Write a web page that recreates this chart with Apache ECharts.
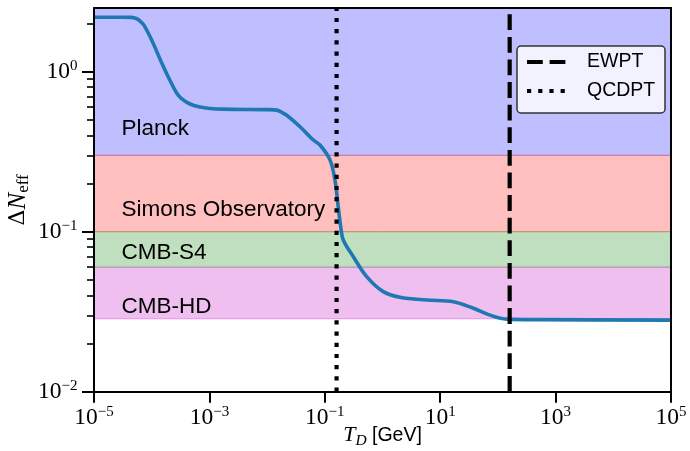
<!DOCTYPE html>
<html>
<head>
<meta charset="utf-8">
<script src="https://cdn.jsdelivr.net/npm/echarts@6/dist/echarts.min.js"></script>
<style>
html, body { margin: 0; padding: 0; background: #fff; }
#chart { width: 690px; height: 451px; }
</style>
</head>
<body>
<div id="chart"></div>
<script>
// Decoupling temperature T_D [GeV] and the resulting contribution to N_eff
const temperature = [1e-5, 3e-5, 4.4e-5, 5.4e-5, 6.3e-5, 7.3e-5, 1.03e-4, 1.46e-4, 2.06e-4, 2.71e-4, 3.25e-4, 4.6e-4,
  6.9e-4, 1.02e-3, 1.72e-3, 0.0105, 0.0147, 0.0178, 0.0219, 0.0372, 0.0632, 0.0826, 0.123, 0.150, 0.171, 0.189, 0.209,
  0.312, 0.532, 1.03, 2.01, 5.83, 16.9, 37.5, 72.9, 142, 537, 1e5];
const deltaNeff = [2.19, 2.19, 2.185, 2.15, 2.07, 1.96, 1.54, 1.155, 0.887, 0.736, 0.682, 0.628,
  0.601, 0.589, 0.583, 0.579, 0.575, 0.558, 0.534, 0.453, 0.374, 0.348, 0.281, 0.210, 0.143, 0.107, 0.0887,
  0.0698, 0.0524, 0.0422, 0.0389, 0.0374, 0.0365, 0.0332, 0.0301, 0.0284, 0.0282, 0.028];

// Experimental sensitivity bands
const bandNames = ['Planck', 'Simons Observatory', 'CMB-S4', 'CMB-HD'];
const bandLower = [0.3, 0.1, 0.06, 0.0285];
const bandUpper = [2.5, 0.3, 0.1, 0.06];
const bandLabelT = 3e-5;
const bandLabelN = [0.44, 0.138, 0.074, 0.034];

// Phase transitions
const transitionNames = ['EWPT', 'QCDPT'];
const transitionT = [160, 0.16];

// Axes
const xRange = [1e-5, 1e5];
const yRange = [1e-2, 2.5];
const xTicks = [1e-5, 1e-3, 1e-1, 1e1, 1e3, 1e5];
const yMajorTicks = [1e-2, 1e-1, 1e0];
const yMinorTicks = [0.02, 0.03, 0.04, 0.05, 0.06, 0.07, 0.08, 0.09,
  0.2, 0.3, 0.4, 0.5, 0.6, 0.7, 0.8, 0.9, 2];

const bandFill = ['rgba(0,0,255,0.25)', 'rgba(255,0,0,0.25)', 'rgba(0,128,0,0.25)', 'rgba(191,0,191,0.25)'];
const transitionDash = [[15.8, 6.8], [4.2, 7.0]];

const SERIF = 'Liberation Serif';
const SANS = 'Liberation Sans';

const powerLabel = function (v) {
  const e = Math.round(Math.log10(v));
  return '{b|10}{s|' + (e < 0 ? '\u2212' + (-e) : String(e)) + '}';
};
const powerRich = {
  b: { fontFamily: SERIF, fontSize: 23.5, lineHeight: 26, color: '#000' },
  s: { fontFamily: SERIF, fontSize: 15, lineHeight: 15, verticalAlign: 'top', color: '#000' }
};

const frameLine = { show: true, onZero: false, lineStyle: { color: '#000', width: 2 } };

const chart = echarts.init(document.getElementById('chart'), null, { renderer: 'canvas' });

const series = [
  {
    type: 'custom',
    coordinateSystem: 'cartesian2d',
    clip: true,
    z: 1,
    encode: { x: 0, y: 1 },
    data: bandNames.map((n, i) => [xRange[0], bandLower[i], bandUpper[i]]),
    renderItem: function (params, api) {
      const i = params.dataIndex;
      const tl = api.coord([xRange[0], bandUpper[i]]);
      const br = api.coord([xRange[1], bandLower[i]]);
      const lp = api.coord([bandLabelT, bandLabelN[i]]);
      return {
        type: 'group',
        children: [
          {
            type: 'rect',
            shape: { x: tl[0], y: tl[1], width: br[0] - tl[0], height: br[1] - tl[1] },
            style: { fill: bandFill[i], stroke: bandFill[i], lineWidth: 1 }
          },
          {
            type: 'text',
            x: lp[0], y: lp[1],
            style: {
              text: bandNames[i], fill: '#000', fontFamily: SANS, fontSize: 22.5,
              align: 'left', verticalAlign: 'middle'
            }
          }
        ]
      };
    }
  },
  {
    type: 'line',
    name: 'deltaNeff',
    data: temperature.map((t, i) => [t, deltaNeff[i]]),
    smooth: 0.35,
    symbol: 'none',
    clip: true,
    z: 3,
    lineStyle: { color: '#1f77b4', width: 3.6 }
  }
];
transitionNames.forEach((name, i) => {
  series.push({
    type: 'line',
    name: name,
    data: [[transitionT[i], yRange[0]], [transitionT[i], yRange[1]]],
    symbol: 'none',
    z: 4,
    lineStyle: { color: '#000', width: 4.2, type: transitionDash[i], cap: 'butt' }
  });
});

// Legend box for the transition lines
const legendX = 517, legendY = 46, legendRowY = [62, 91];
const legendChildren = [{
  type: 'rect',
  z: 100,
  shape: { x: legendX, y: legendY, width: 148, height: 67, r: 4 },
  style: { fill: 'rgba(255,255,255,0.8)', stroke: '#333', lineWidth: 1.5 }
}];
transitionNames.forEach((name, i) => {
  legendChildren.push({
    type: 'line',
    z: 101,
    shape: { x1: legendX + 10, y1: legendRowY[i], x2: legendX + 49, y2: legendRowY[i] },
    style: { stroke: '#000', lineWidth: 4.2, lineDash: transitionDash[i], lineCap: 'butt' }
  });
  legendChildren.push({
    type: 'text',
    z: 101,
    x: legendX + 70, y: legendRowY[i],
    style: { text: name, fill: '#000', fontFamily: SANS, fontSize: 19.5, align: 'left', verticalAlign: 'middle' }
  });
});

chart.setOption({
  animation: false,
  backgroundColor: '#fff',
  grid: { left: 94, right: 19, top: 8, bottom: 59.3, containLabel: false, outerBoundsMode: 'none' },
  xAxis: [
    {
      type: 'log', logBase: 10, min: xRange[0], max: xRange[1], position: 'bottom', z: 10,
      axisLine: frameLine,
      axisTick: { show: true, length: 11, customValues: xTicks, lineStyle: { color: '#000', width: 2 } },
      axisLabel: { customValues: xTicks, margin: 13, formatter: powerLabel, rich: powerRich, showMinLabel: true, showMaxLabel: true, hideOverlap: false },
      splitLine: { show: false },
      minorTick: { show: false },
      name: '{t|T}{d|D}{g| [GeV]}',
      nameLocation: 'middle',
      nameGap: 31,
      nameMoveOverlap: false,
      nameTextStyle: {
        rich: {
          t: { fontFamily: SERIF, fontStyle: 'italic', fontSize: 22, lineHeight: 26, color: '#000' },
          d: { fontFamily: SERIF, fontStyle: 'italic', fontSize: 15.5, lineHeight: 15.5, verticalAlign: 'bottom', color: '#000' },
          g: { fontFamily: SANS, fontSize: 19.5, lineHeight: 26, color: '#000' }
        }
      }
    },
    {
      type: 'log', logBase: 10, min: xRange[0], max: xRange[1], position: 'top', z: 10,
      axisLine: frameLine, axisTick: { show: false }, axisLabel: { show: false }, splitLine: { show: false }
    }
  ],
  yAxis: [
    {
      type: 'log', logBase: 10, min: yRange[0], max: yRange[1], position: 'left', z: 10,
      axisLine: frameLine,
      axisTick: { show: true, length: 12, customValues: yMajorTicks, lineStyle: { color: '#000', width: 2 } },
      axisLabel: { customValues: yMajorTicks, margin: 16.5, formatter: powerLabel, rich: powerRich, showMinLabel: true, hideOverlap: false },
      splitLine: { show: false },
      name: '{d|\u0394}{n|N}{s|eff}',
      nameLocation: 'middle',
      nameRotate: 90,
      nameGap: 62,
      nameMoveOverlap: false,
      nameTextStyle: {
        rich: {
          d: { fontFamily: 'DejaVu Serif', fontSize: 22, lineHeight: 28, color: '#000' },
          n: { fontFamily: SERIF, fontStyle: 'italic', fontSize: 25, lineHeight: 28, color: '#000' },
          s: { fontFamily: SERIF, fontSize: 17, lineHeight: 17, verticalAlign: 'bottom', color: '#000' }
        }
      }
    },
    {
      type: 'log', logBase: 10, min: yRange[0], max: yRange[1], position: 'left', z: 10,
      axisLine: { show: false },
      axisTick: { show: true, length: 7, customValues: yMinorTicks, lineStyle: { color: '#000', width: 1.6 } },
      axisLabel: { show: false },
      splitLine: { show: false }
    },
    {
      type: 'log', logBase: 10, min: yRange[0], max: yRange[1], position: 'right', z: 10,
      axisLine: frameLine, axisTick: { show: false }, axisLabel: { show: false }, splitLine: { show: false }
    }
  ],
  series: series,
  graphic: [{ type: 'group', z: 100, children: legendChildren }]
});
</script>
</body>
</html>
